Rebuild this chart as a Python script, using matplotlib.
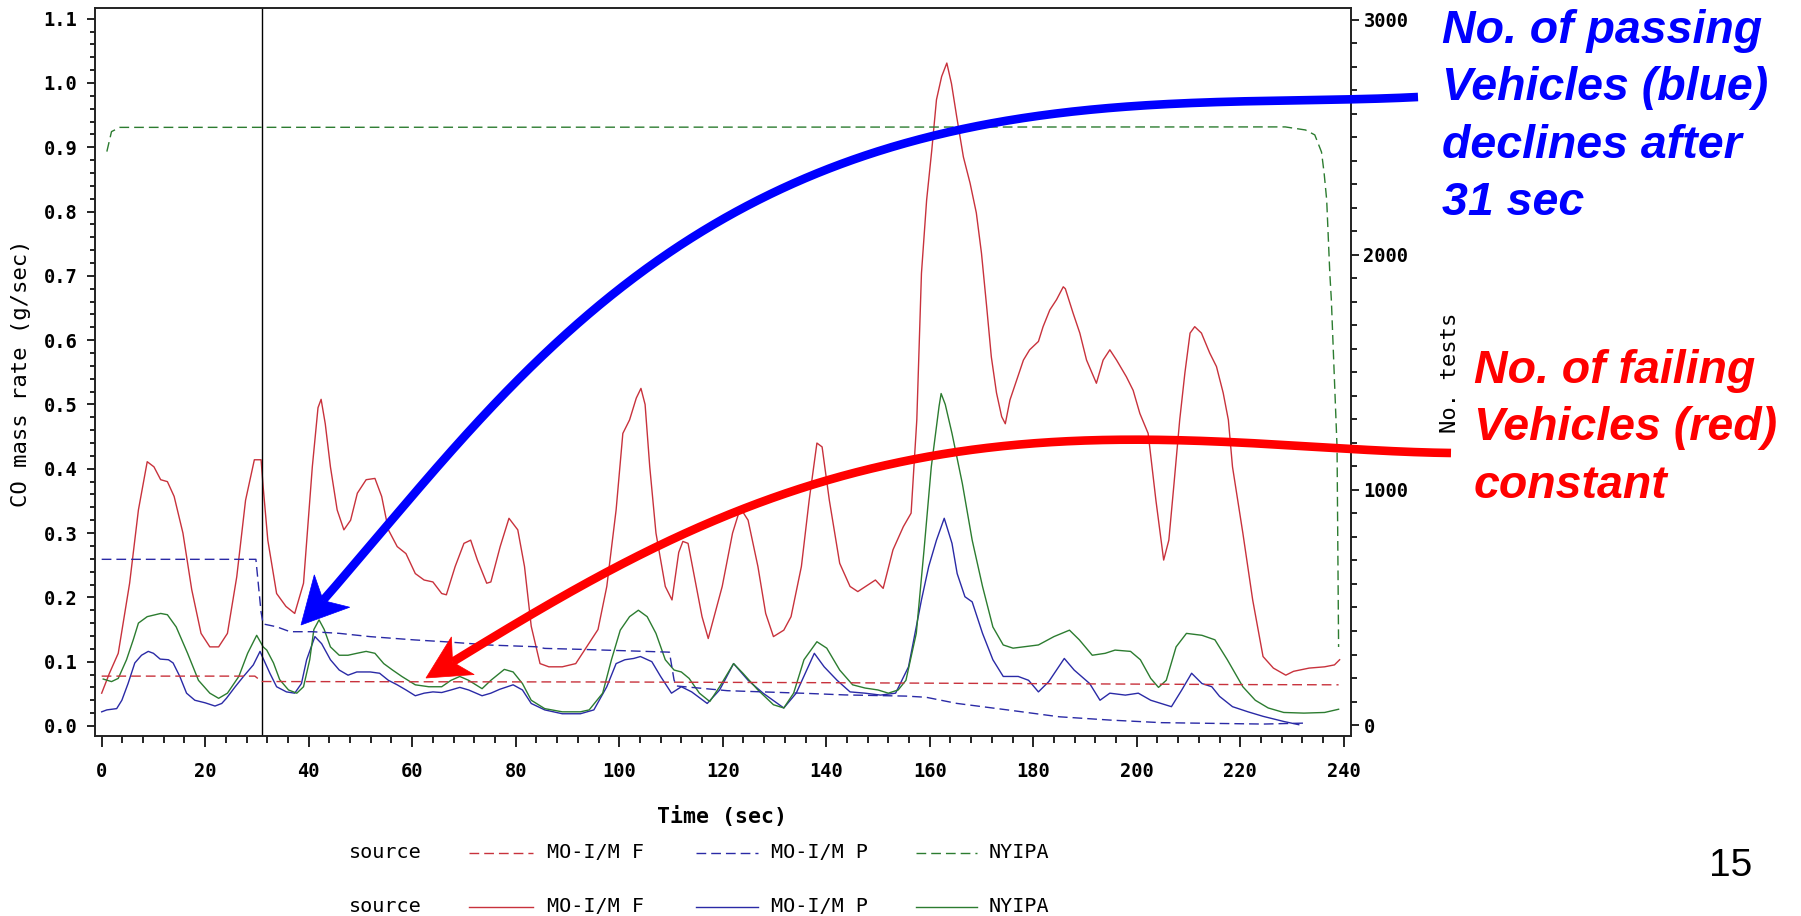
import math
import numpy as np
import matplotlib
matplotlib.use("Agg")
import matplotlib.pyplot as plt
import matplotlib.transforms as mtransforms
from matplotlib.patches import Polygon
from matplotlib.lines import Line2D
from matplotlib.ticker import MultipleLocator, FormatStrFormatter

# ---------------- data ----------------
# CO mass rate (g/sec), solid lines, left axis
t_fail = [0, 1.5, 3.2, 5.4, 7.1, 8.8, 10.1, 11.4, 12.7, 14.0, 15.7, 17.4, 19.2, 20.9, 22.6,
          24.3, 26.1, 27.8, 29.5, 30.8, 31.2, 32.1, 33.8, 35.6, 37.3, 39.0, 40.7, 41.8, 42.4,
          43.2, 44.2, 45.5, 46.8, 48.1, 49.4, 51.1, 52.8, 54.1, 55.4, 57.1, 58.8, 60.6, 62.3,
          64.0, 65.7, 66.6, 68.3, 70.0, 71.3, 72.6, 74.4, 75.2, 77.0, 78.7, 80.4, 81.7, 83.0,
          84.7, 86.4, 89.0, 91.6, 93.3, 95.9, 97.6, 99.4, 100.7, 102.0, 103.3, 104.2, 105.0,
          105.9, 107.1, 108.9, 110.2, 111.5, 112.3, 113.3, 116.0, 117.2, 119.9, 121.9, 123.4,
          124.9, 126.8, 128.3, 129.8, 131.8, 133.2, 135.2, 136.7, 138.2, 139.2, 140.6, 142.6,
          144.6, 146.1, 148.0, 149.5, 151.0, 152.9, 154.9, 156.4, 157.5, 158.4, 159.4, 160.4,
          161.3, 162.3, 163.3, 164.2, 165.2, 166.5, 167.8, 169.0, 170.0, 171.0, 171.9, 172.9,
          173.9, 174.6, 175.5, 176.8, 178.1, 179.3, 181.0, 181.9, 183.2, 184.5, 185.8, 186.2,
          187.7, 189.0, 190.3, 192.2, 193.5, 194.8, 196.1, 198.0, 199.3, 200.6, 202.2, 203.7,
          205.2, 206.2, 207.2, 208.3, 209.3, 210.3, 211.2, 212.5, 214.1, 215.4, 216.7, 217.7,
          218.5, 220.5, 222.4, 224.4, 226.4, 228.8, 230.3, 233.3, 236.3, 238.2, 239.2]
co_fail = [0.051, 0.082, 0.113, 0.222, 0.336, 0.411, 0.403, 0.383, 0.380, 0.357, 0.300, 0.212,
           0.144, 0.123, 0.123, 0.144, 0.232, 0.351, 0.414, 0.414, 0.372, 0.289, 0.206, 0.186,
           0.175, 0.222, 0.403, 0.495, 0.508, 0.470, 0.403, 0.336, 0.305, 0.320, 0.362, 0.383,
           0.385, 0.357, 0.305, 0.279, 0.268, 0.237, 0.227, 0.224, 0.206, 0.204, 0.248, 0.284,
           0.289, 0.258, 0.222, 0.224, 0.279, 0.323, 0.305, 0.248, 0.155, 0.097, 0.092, 0.092,
           0.097, 0.118, 0.150, 0.217, 0.336, 0.455, 0.476, 0.510, 0.525, 0.500, 0.403, 0.300,
           0.217, 0.196, 0.270, 0.287, 0.284, 0.170, 0.136, 0.217, 0.300, 0.339, 0.320, 0.248,
           0.175, 0.139, 0.149, 0.170, 0.248, 0.351, 0.440, 0.434, 0.351, 0.253, 0.217, 0.209,
           0.219, 0.227, 0.214, 0.274, 0.310, 0.331, 0.476, 0.704, 0.818, 0.896, 0.974, 1.010,
           1.031, 0.999, 0.948, 0.885, 0.844, 0.798, 0.735, 0.652, 0.574, 0.518, 0.481, 0.470,
           0.507, 0.538, 0.569, 0.585, 0.598, 0.621, 0.647, 0.663, 0.683, 0.680, 0.642, 0.611,
           0.569, 0.533, 0.569, 0.585, 0.569, 0.543, 0.522, 0.486, 0.455, 0.351, 0.258, 0.289,
           0.377, 0.476, 0.549, 0.611, 0.621, 0.611, 0.580, 0.559, 0.518, 0.476, 0.403, 0.300,
           0.196, 0.108, 0.090, 0.079, 0.085, 0.090, 0.092, 0.095, 0.103]

t_pass = [0, 1.0, 2.9, 3.9, 5.1, 6.4, 7.7, 9.0, 10.0, 11.3, 12.9, 13.8, 15.1, 16.4, 18.0, 20.0,
          21.9, 23.2, 24.1, 25.8, 27.4, 29.3, 30.6, 31.2, 32.5, 33.8, 35.7, 37.3, 38.6, 39.6,
          41.2, 42.5, 44.2, 45.9, 47.6, 49.3, 51.9, 53.7, 55.4, 57.1, 58.8, 60.6, 62.3, 64.0,
          65.7, 67.5, 69.2, 70.9, 73.5, 75.2, 76.9, 79.5, 81.3, 83.0, 85.6, 89.0, 92.5, 95.1,
          97.6, 99.4, 101.1, 102.8, 104.1, 106.3, 108.0, 110.1, 112.0, 114.0, 117.0, 119.4,
          122.1, 124.9, 127.8, 131.8, 134.2, 137.7, 139.6, 142.1, 144.6, 147.5, 150.5, 153.4,
          155.9, 158.4, 159.8, 161.3, 162.8, 164.3, 165.3, 166.8, 168.2, 170.2, 172.2, 174.2,
          177.1, 179.1, 181.0, 183.0, 186.0, 187.9, 190.9, 192.9, 194.8, 197.8, 200.3, 202.7,
          204.7, 206.7, 208.7, 210.6, 212.6, 214.5, 216.0, 218.5, 221.5, 224.4, 228.4, 231.3]
co_pass = [0.022, 0.025, 0.027, 0.040, 0.066, 0.098, 0.110, 0.116, 0.113, 0.104, 0.103, 0.098,
           0.077, 0.051, 0.040, 0.036, 0.031, 0.035, 0.043, 0.061, 0.077, 0.095, 0.116, 0.105,
           0.082, 0.061, 0.053, 0.051, 0.066, 0.103, 0.139, 0.128, 0.103, 0.087, 0.079, 0.084,
           0.084, 0.082, 0.071, 0.064, 0.056, 0.047, 0.051, 0.053, 0.052, 0.056, 0.060, 0.056,
           0.047, 0.051, 0.057, 0.064, 0.056, 0.035, 0.025, 0.019, 0.019, 0.025, 0.061, 0.097,
           0.103, 0.105, 0.108, 0.100, 0.077, 0.051, 0.061, 0.053, 0.035, 0.056, 0.097, 0.071,
           0.051, 0.028, 0.051, 0.113, 0.092, 0.071, 0.053, 0.051, 0.048, 0.051, 0.092, 0.196,
           0.248, 0.289, 0.323, 0.284, 0.237, 0.201, 0.193, 0.144, 0.103, 0.077, 0.077, 0.071,
           0.053, 0.069, 0.105, 0.087, 0.066, 0.040, 0.051, 0.048, 0.051, 0.040, 0.035, 0.030,
           0.056, 0.082, 0.066, 0.061, 0.046, 0.030, 0.022, 0.015, 0.007, 0.002]

t_nyipa = [0.3, 1.9, 3.2, 4.8, 6.1, 7.1, 8.8, 11.4, 12.7, 14.4, 16.6, 18.7, 20.9, 22.6, 24.3,
           26.5, 28.2, 29.95, 31.2, 31.9, 33.2, 34.4, 36.1, 37.7, 39.0, 40.2, 41.0, 42.0, 43.0,
           44.2, 45.9, 47.6, 49.3, 51.1, 52.8, 54.5, 56.2, 58.0, 60.6, 63.2, 65.7, 67.5, 69.2,
           70.9, 73.5, 75.2, 77.8, 79.5, 81.3, 83.0, 85.6, 89.0, 92.5, 94.2, 96.8, 98.5, 100.2,
           102.0, 103.7, 105.4, 107.1, 108.9, 110.6, 112.0, 113.5, 115.5, 117.5, 119.4, 122.1,
           123.9, 126.8, 129.8, 131.8, 133.7, 135.7, 138.2, 140.1, 142.6, 145.1, 147.5, 150.0,
           152.0, 153.9, 155.4, 157.4, 158.9, 160.3, 161.8, 162.2, 163.0, 164.3, 166.3, 168.2,
           170.2, 172.2, 174.2, 176.1, 181.0, 184.0, 187.0, 188.9, 191.4, 193.9, 195.8, 198.8,
           200.7, 202.7, 204.2, 205.7, 207.6, 209.6, 212.6, 215.1, 217.5, 220.5, 222.9, 225.4,
           228.4, 232.3, 236.3, 239.0]
co_nyipa = [0.073, 0.069, 0.074, 0.103, 0.134, 0.160, 0.170, 0.175, 0.173, 0.154, 0.113, 0.071,
            0.051, 0.043, 0.051, 0.077, 0.113, 0.141, 0.123, 0.118, 0.098, 0.072, 0.056, 0.051,
            0.061, 0.103, 0.150, 0.165, 0.150, 0.123, 0.110, 0.110, 0.113, 0.116, 0.113, 0.097,
            0.087, 0.077, 0.064, 0.061, 0.061, 0.071, 0.077, 0.071, 0.058, 0.071, 0.088, 0.084,
            0.066, 0.040, 0.027, 0.022, 0.022, 0.025, 0.051, 0.103, 0.149, 0.170, 0.180, 0.170,
            0.144, 0.103, 0.087, 0.084, 0.074, 0.051, 0.038, 0.061, 0.097, 0.082, 0.056, 0.033,
            0.028, 0.051, 0.103, 0.131, 0.121, 0.087, 0.064, 0.059, 0.056, 0.051, 0.056, 0.071,
            0.144, 0.274, 0.403, 0.497, 0.517, 0.500, 0.455, 0.377, 0.289, 0.217, 0.154, 0.126,
            0.121, 0.126, 0.139, 0.149, 0.134, 0.110, 0.113, 0.118, 0.116, 0.103, 0.074, 0.060,
            0.071, 0.123, 0.144, 0.141, 0.134, 0.103, 0.061, 0.040, 0.028, 0.021, 0.020, 0.021,
            0.026]

# Number of tests, dashed lines, right axis
t_nfail = [0, 29.6, 30.9, 60, 100, 140, 180, 220, 239]
n_fail = [208, 208, 185, 184, 183, 180, 176, 172, 171]

t_npass = [0, 29.8, 30.8, 31.2, 33.8, 36.4, 40.7, 45.9, 51.9, 60.5, 66.5, 75.2, 83.9, 85.6, 92.4,
           101.1, 109.7, 110.6, 111.1, 120.9, 135.7, 143.6, 155.4, 159.3, 165.2, 175.1, 185.0,
           194.8, 204.7, 214.5, 224.4, 232.3]
n_pass = [705, 705, 480, 430, 418, 397, 397, 390, 376, 362, 354, 340, 333, 326, 322, 316, 310,
          191, 166, 146, 135, 128, 123, 118, 92, 64, 35, 21, 10, 7, 4, 8]

t_nnyipa = [1.0, 1.9, 3.5, 228.7, 232.6, 234.4, 235.7, 236.2, 236.7, 237.3, 237.6, 238.7, 238.9, 239.0]
n_nyipa = [2440, 2525, 2543, 2545, 2532, 2511, 2438, 2349, 2234, 1923, 1809, 1183, 617, 332]

cutoff_time = 31

source_labels = ["MO-I/M F", "MO-I/M P", "NYIPA"]
x_ticks = list(range(0, 241, 20))
y_ticks = [round(0.1 * i, 1) for i in range(12)]
n_ticks = [0, 1000, 2000, 3000]

# ---------------- styling ----------------
RED, BLUE, GREEN = "#c8323c", "#2a2aa6", "#2c7c30"
DASH = (0, (7, 3.6))
MONO = "DejaVu Sans Mono"
W, H = 1801, 916

fig = plt.figure(figsize=(W / 100, H / 100), dpi=100)
ax = fig.add_axes([95 / W, 1 - 736 / H, (1350.5 - 95) / W, (736 - 8) / H])
ax2 = ax.twinx()

# pixel-space transform (origin top-left) for page decorations
px = mtransforms.Affine2D().scale(1 / W, -1 / H).translate(0, 1) + fig.transFigure

# dashed counts on the right axis
ax2.plot(t_nfail, n_fail, color=RED, lw=1.0, linestyle=DASH)
ax2.plot(t_npass, n_pass, color=BLUE, lw=1.0, linestyle=DASH)
ax2.plot(t_nnyipa, n_nyipa, color=GREEN, lw=1.0, linestyle=DASH)

# solid CO mass rates on the left axis
ax.plot(t_fail, co_fail, color=RED, lw=1.0)
ax.plot(t_pass, co_pass, color=BLUE, lw=1.0)
ax.plot(t_nyipa, co_nyipa, color=GREEN, lw=1.0)
ax.axvline(cutoff_time, color="black", lw=1.0)

ax.set_xlim(-1.29, 241.3)
ax.set_ylim(-0.0156, 1.1166)
ax2.set_ylim(-46.8, 3051)

ax.set_xticks(x_ticks)
ax.xaxis.set_minor_locator(MultipleLocator(4))
ax.set_yticks(y_ticks)
ax.yaxis.set_major_formatter(FormatStrFormatter("%.1f"))
ax.yaxis.set_minor_locator(MultipleLocator(0.02))
ax2.set_yticks(n_ticks)
ax2.yaxis.set_minor_locator(MultipleLocator(100))

for a in (ax, ax2):
    for s in a.spines.values():
        s.set_linewidth(1.2)
        s.set_color("#222222")

ax.tick_params(axis="x", which="major", length=7.9, width=1.2, pad=11, labelsize=13.5)
ax.tick_params(axis="x", which="minor", length=5.0, width=1.2)
ax.tick_params(axis="y", which="major", length=5.8, width=1.2, pad=7, labelsize=13.5)
ax.tick_params(axis="y", which="minor", length=3.6, width=1.2)
ax2.tick_params(axis="y", which="major", length=5.8, width=1.2, pad=3.5, labelsize=13.5)
ax2.tick_params(axis="y", which="minor", length=4.3, width=1.2)
for lab in ax.get_xticklabels() + ax.get_yticklabels() + ax2.get_yticklabels():
    lab.set_fontfamily(MONO)
    lab.set_fontweight("bold")

ax.set_xlabel("Time (sec)", fontfamily=MONO, fontweight="bold", fontsize=15.5)
ax.xaxis.set_label_coords((722 - 95) / 1255.5, (736 - 817) / 728)
ax.xaxis.label.set_va("center")
ax.set_ylabel("CO mass rate (g/sec)", fontfamily=MONO, fontsize=16)
ax.yaxis.set_label_coords((21 - 95) / 1255.5, (736 - 373) / 728)
ax.yaxis.label.set_va("center")
ax2.set_ylabel("No. tests", fontfamily=MONO, fontsize=16, rotation=90)
ax2.yaxis.set_label_coords((1450 - 95) / 1255.5, (736 - 373) / 728)
ax2.yaxis.label.set_va("center")

# ---------------- legend rows ----------------
row_y = [853, 907]
row_style = [DASH, "-"]
key_x = [(469, 533), (696, 758), (916, 977)]
text_x = [547, 771, 989]
colors = [RED, BLUE, GREEN]
for ry, ls in zip(row_y, row_style):
    fig.text(349, ry, "source", transform=px, fontfamily=MONO, fontsize=14.5,
             ha="left", va="center")
    for (x0, x1), tx, c, lab in zip(key_x, text_x, colors, source_labels):
        fig.add_artist(Line2D([x0, x1], [ry, ry], transform=px, color=c, lw=1.0, linestyle=ls))
        fig.text(tx, ry, lab, transform=px, fontfamily=MONO, fontsize=14.5,
                 ha="left", va="center")


# ---------------- callout arrows ----------------
def bezier_fit(points, degree=4):
    """Least-squares Bezier through the guide points with fixed ends."""
    q = np.asarray(points, float)
    seg = np.hypot(*np.diff(q, axis=0).T)
    t = np.concatenate([[0], np.cumsum(seg)]) / seg.sum()
    basis = np.column_stack([math.comb(degree, k) * (1 - t) ** (degree - k) * t ** k
                             for k in range(degree + 1)])
    rhs = q - np.outer(basis[:, 0], q[0]) - np.outer(basis[:, -1], q[-1])
    inner, *_ = np.linalg.lstsq(basis[:, 1:-1], rhs, rcond=None)
    return np.vstack([q[0], inner, q[-1]])


def bezier_eval(ctrl, s):
    deg = len(ctrl) - 1
    s = s[:, None]
    return sum(math.comb(deg, k) * (1 - s) ** (deg - k) * s ** k * ctrl[k]
               for k in range(deg + 1))


def callout(points, color, length, half_w, notch, lw=6.2):
    ctrl = bezier_fit(points)
    curve = bezier_eval(ctrl, np.linspace(0, 1, 800))
    tip = ctrl[-1]
    d = tip - ctrl[-2]
    d /= np.hypot(*d)
    n = np.array([-d[1], d[0]])
    base = tip - length * d
    notch_pt = tip - (length - notch) * d
    keep = np.hypot(*(curve - tip).T) > (length - notch)
    line = np.vstack([curve[keep], notch_pt])
    fig.add_artist(Line2D(line[:, 0], line[:, 1], transform=px, color=color, lw=lw,
                          solid_capstyle="butt", solid_joinstyle="round"))
    fig.add_artist(Polygon([tip, base + half_w * n, notch_pt, base - half_w * n],
                           closed=True, transform=px, facecolor=color, edgecolor=color, lw=0.5))


callout([(1418, 97), (1260, 101), (1080, 113), (980, 125), (880, 147), (816, 175), (744, 209),
         (673, 251), (601, 301), (548, 351), (494, 401), (441, 466), (387, 526), (344, 580),
         (301, 625)], "#0000ff", 46, 24, 13)
callout([(1451, 453), (1263, 442), (1149, 441), (1034, 446), (919, 457), (816, 480), (744, 508),
         (673, 540), (601, 580), (548, 608), (494, 630), (460, 654), (426, 678)],
        "#ff0000", 43, 22, 12)

# ---------------- callout text ----------------
blue_lines = ["No. of passing", "Vehicles (blue)", "declines after", "31 sec"]
for i, s in enumerate(blue_lines):
    fig.text(1442, 43 + 57.3 * i, s, transform=px, color="#0000ff", fontsize=33.5,
             fontfamily="Liberation Sans", fontweight="bold", fontstyle="italic",
             ha="left", va="baseline")
red_lines = ["No. of failing", "Vehicles (red)", "constant"]
for i, s in enumerate(red_lines):
    fig.text(1474, 383 + 57.5 * i, s, transform=px, color="#ff0000", fontsize=33.5,
             fontfamily="Liberation Sans", fontweight="bold", fontstyle="italic",
             ha="left", va="baseline")

fig.text(1731, 866, "15", transform=px, fontsize=28, fontfamily="Liberation Sans",
         ha="center", va="center")

fig.savefig("out.png", dpi=100)
